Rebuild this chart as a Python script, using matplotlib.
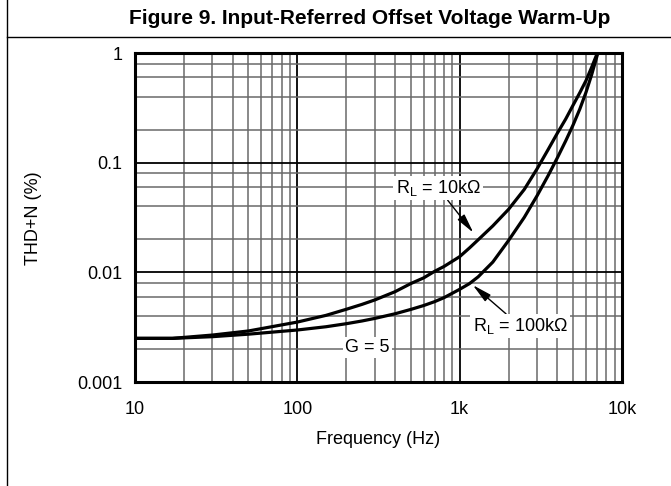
import matplotlib
matplotlib.use("Agg")
import matplotlib.pyplot as plt
from matplotlib.lines import Line2D
from matplotlib.ticker import LogLocator, FixedLocator, FixedFormatter, NullFormatter

plt.rcParams["font.family"] = ["Liberation Sans", "DejaVu Sans"]
plt.rcParams["mathtext.fontset"] = "custom"
plt.rcParams["mathtext.rm"] = "Liberation Sans"
plt.rcParams["mathtext.it"] = "Liberation Sans"

TITLE = "Figure 9. Input-Referred Offset Voltage Warm-Up"

# THD+N (%) vs frequency
freq_10k = [10, 17, 30, 50, 100, 150, 200, 250, 300, 400, 500, 600, 700, 800,
            1000, 1150, 1300, 1600, 2000, 2500, 3000, 3500, 4000, 4500, 5000,
            5500, 6000, 6500, 7050]
thd_10k = [0.0025, 0.0025, 0.00268, 0.00292, 0.00352, 0.00405, 0.0046, 0.0051,
           0.0056, 0.00666, 0.0079, 0.0089, 0.0102, 0.0113, 0.0139, 0.0167,
           0.0198, 0.0265, 0.0375, 0.057, 0.088, 0.131, 0.186, 0.25, 0.335,
           0.435, 0.56, 0.74, 1.0]

freq_100k = [10, 17, 30, 50, 100, 150, 200, 250, 300, 400, 500, 600, 700, 800,
             1000, 1150, 1300, 1600, 2000, 2500, 3000, 3500, 4000, 4500, 5000,
             5500, 6000, 6500, 7100]
thd_100k = [0.0025, 0.0025, 0.00259, 0.00273, 0.00298, 0.00319, 0.0034, 0.0036,
            0.0038, 0.00419, 0.00459, 0.00498, 0.0054, 0.00587, 0.0070, 0.0079,
            0.0091, 0.0124, 0.0195, 0.0317, 0.050, 0.0758, 0.111, 0.158, 0.221,
            0.309, 0.438, 0.633, 1.0]

x_ticks = [10, 100, 1000, 10000]
x_labels = ["10", "100", "1k", "10k"]
y_ticks = [0.001, 0.01, 0.1, 1]
y_labels = ["0.001", "0.01", "0.1", "1"]

W, H = 671, 486
fig = plt.figure(figsize=(W / 100, H / 100), dpi=100)
ax = fig.add_axes([135 / W, 1 - 382 / H, 487 / W, 329 / H])

# page frame: left rule and title rule
fig.add_artist(Line2D([7 / W, 7 / W], [0, 1], color="black", lw=1.0))
fig.add_artist(Line2D([7 / W, 1], [1 - 37 / H, 1 - 37 / H], color="black", lw=1.0))
fig.text(370 / W, 1 - 19 / H, TITLE, ha="center", va="center",
         fontsize=15, fontweight="bold")

ax.set_xscale("log")
ax.set_yscale("log")
ax.set_xlim(10, 10000)
ax.set_ylim(0.001, 1)

ax.xaxis.set_major_locator(FixedLocator(x_ticks))
ax.xaxis.set_major_formatter(FixedFormatter(x_labels))
ax.yaxis.set_major_locator(FixedLocator(y_ticks))
ax.yaxis.set_major_formatter(FixedFormatter(y_labels))
ax.xaxis.set_minor_locator(LogLocator(base=10, subs=range(2, 10)))
ax.yaxis.set_minor_locator(LogLocator(base=10, subs=[2, 4, 6, 8]))
ax.xaxis.set_minor_formatter(NullFormatter())
ax.yaxis.set_minor_formatter(NullFormatter())
ax.tick_params(which="both", length=0, labelsize=13)
ax.tick_params(axis="x", pad=14)
ax.tick_params(axis="y", pad=9)

ax.grid(which="major", color="black", lw=1.3)
ax.grid(which="minor", color="#6a6a6a", lw=1.1)
ax.set_axisbelow(True)
for s in ax.spines.values():
    s.set_linewidth(2.2)

ax.plot(freq_10k, thd_10k, color="black", lw=2.3, solid_capstyle="butt")
ax.plot(freq_100k, thd_100k, color="black", lw=2.3, solid_capstyle="butt")

box = dict(boxstyle="square,pad=0.12", fc="white", ec="none")
arrow = dict(arrowstyle="-|>,head_length=0.9,head_width=0.2", color="black",
             lw=1.0, shrinkA=0, shrinkB=0)
ax.annotate("R$_\\mathrm{L}$ = 10k\u03a9", xy=(1214, 0.023), xytext=(736, 0.0587),
            ha="center", va="center", fontsize=13, bbox=box, arrowprops=arrow)
ax.annotate("R$_\\mathrm{L}$ = 100k\u03a9", xy=(1205, 0.00765), xytext=(2356, 0.00324),
            ha="center", va="center", fontsize=13, bbox=box, arrowprops=arrow)
ax.text(271, 0.00206, "G = 5", ha="center", va="center", fontsize=13, bbox=box)

ax.set_xlabel("Frequency (Hz)", fontsize=13, labelpad=9)
fig.text(33 / W, 1 - 218 / H, "THD+N (%)", rotation=90, ha="center",
         va="center", fontsize=13)

fig.savefig("out.png", dpi=100)
